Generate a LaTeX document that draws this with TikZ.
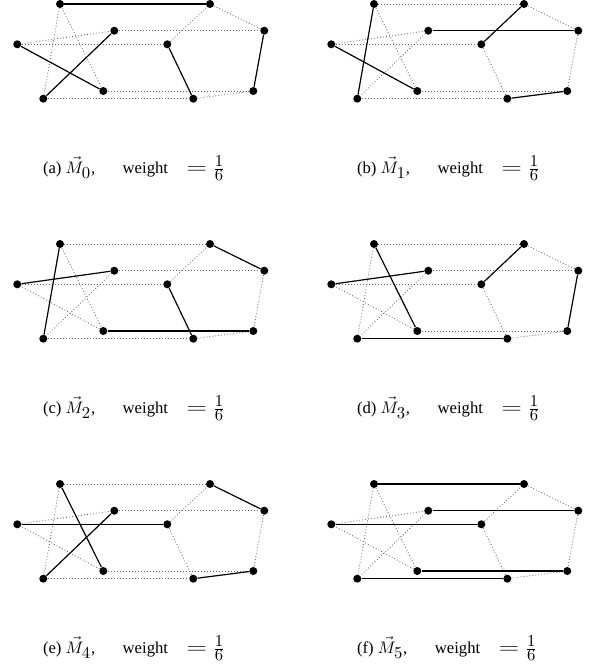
\documentclass[tikz,border=0pt]{standalone}
\usepackage{amsmath}
\usepackage{graphicx}
\usepackage{fontspec}
\setmainfont{Liberation Serif}
\DeclareMathSizes{10}{10}{10}{7}
\usepackage{tikz}
\usetikzlibrary{calc}
\tikzset{
  vtx/.style={circle,fill=black,inner sep=0pt,minimum size=4.8pt},
  nonmatch/.style={draw=black!60,line width=0.5pt,dash pattern=on 0.5pt off 1.3pt},
  match/.style={draw=black,line width=0.7pt},
  caption/.style={anchor=base west,font=\normalsize,inner sep=0pt},
}
\newcommand{\bigeq}{\scalebox{1.6}[1.1]{$=$}}

\begin{document}
\begin{tikzpicture}[x=0.6pt,y=-0.6pt]
\useasboundingbox (0,0) rectangle (590,667);
\foreach \p/\col/\row/\lab/\match in {%
    0/0/0/a/{A/B,E/G,I/C,F/J,D/H},
    1/1/0/b/{A/I,E/G,C/D,F/B,J/H},
    2/0/1/c/{A/I,E/C,B/D,F/J,G/H},
    3/1/1/d/{A/G,E/C,F/B,I/J,D/H},
    4/0/2/e/{A/G,I/C,B/D,E/F,J/H},
    5/1/2/f/{A/B,C/D,E/F,G/H,I/J}} {
  \begin{scope}[shift={(\col*314,\row*240)}]
    % star side
    \node[vtx] (m\p A) at (60,4) {};
    \node[vtx] (m\p C) at (114.3,30.7) {};
    \node[vtx] (m\p E) at (17.3,44.3) {};
    \node[vtx] (m\p G) at (103.3,91) {};
    \node[vtx] (m\p I) at (43.3,98.7) {};
    % pentagon side
    \node[vtx] (m\p B) at (210,4) {};
    \node[vtx] (m\p D) at (264.3,30.7) {};
    \node[vtx] (m\p F) at (167.3,44.3) {};
    \node[vtx] (m\p H) at (253.3,91) {};
    \node[vtx] (m\p J) at (193.3,98.7) {};
    \foreach \u/\v in {A/B,C/D,E/F,G/H,I/J,A/G,G/E,E/C,C/I,I/A,B/D,D/H,H/J,J/F,F/B}
      \draw[nonmatch] (m\p\u) -- (m\p\v);
    \foreach \u/\v in \match
      \draw[match] (m\p\u) -- (m\p\v);
    \node[caption] (cap\p) at (42.7,173)
      {(\lab) $\vec{M}_{\p}$,\hspace{16.5pt}weight\hspace{11pt}\bigeq\hspace{3.5pt}$\frac{1}{6}$};
  \end{scope}
}
\end{tikzpicture}
\end{document}
